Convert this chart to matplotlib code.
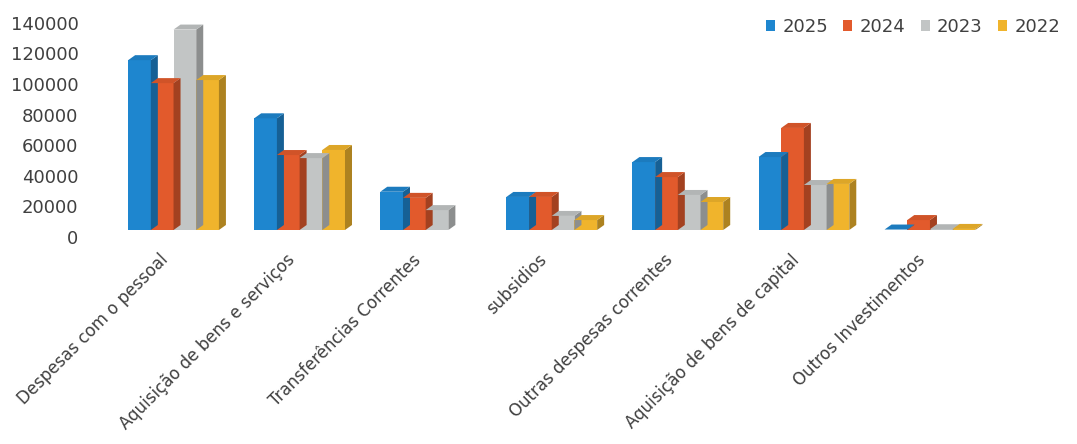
import matplotlib
matplotlib.use("Agg")
import matplotlib.pyplot as plt
import numpy as np
from matplotlib.patches import Polygon, Patch
from matplotlib.transforms import ScaledTranslation
import matplotlib.colors as mcolors

categories = ["Despesas com o pessoal", "Aquisição de bens e serviços", "Transferências Correntes",
              "subsidios", "Outras despesas correntes", "Aquisição de bens de capital", "Outros Investimentos"]
series_names = ["2025", "2024", "2023", "2022"]
v2025 = [111000, 73000, 25000, 21600, 44400, 47700, 300]
v2024 = [96000, 49000, 21000, 21600, 34600, 66700, 6500]
v2023 = [131000, 47000, 13000, 9200, 22900, 29400, 500]
v2022 = [98000, 52300, 0, 6500, 18300, 30100, 700]
yticks = [0, 20000, 40000, 60000, 80000, 100000, 120000, 140000]
colors = ["#1e86cf", "#e25a2c", "#c2c5c5", "#f0b42c"]

W, H, DPI = 1077, 444, 100
fig = plt.figure(figsize=(W / DPI, H / DPI), dpi=DPI)
plt.rcParams['font.family'] = ['DejaVu Sans']

left_px, right_px = 110.5, 993.0
base_px, top_px = 230.0, 15.8
ax = fig.add_axes([left_px / W, (H - base_px) / H, (right_px - left_px) / W, (base_px - top_px) / H])
ax.set_xlim(-0.5, len(categories) - 0.5)
ax.set_ylim(0, 140000)
for s in ax.spines.values():
    s.set_visible(False)

data = [v2025, v2024, v2023, v2022]
n = len(data)
bw = 0.18
x = np.arange(len(categories))
dx, dy = 7.0, 5.0  # depth in pixels

def shade(c, f):
    r, g, b = mcolors.to_rgb(c)
    return (r * f, g * f, b * f)

fig.canvas.draw()
T = ax.transData
z = 2
for ci in range(len(categories)):
    for si in range(n):
        h = data[si][ci]
        if h <= 0:
            continue
        xl = x[ci] - bw * n / 2 + si * bw
        xr = xl + bw
        (X0, Y0) = T.transform((xl, 0))
        (X1, Y1) = T.transform((xr, h))
        c = colors[si]
        side = Polygon([(X1, Y0), (X1 + dx, Y0 + dy), (X1 + dx, Y1 + dy), (X1, Y1)],
                       closed=True, transform=None, facecolor=shade(c, 0.72), edgecolor='none', zorder=z)
        top = Polygon([(X0, Y1), (X0 + dx, Y1 + dy), (X1 + dx, Y1 + dy), (X1, Y1)],
                      closed=True, transform=None, facecolor=shade(c, 0.92), edgecolor='none', zorder=z + 0.1)
        fig.add_artist(side)
        fig.add_artist(top)
        front = ax.bar(xl, h, width=bw, align='edge', color=c, zorder=z + 0.2, linewidth=0)
        for p in front:
            p.set_clip_on(False)
        z += 1

ax.set_yticks(yticks)
ax.set_yticklabels([str(v) for v in yticks])
ax.tick_params(axis='y', length=0, pad=23, labelsize=13, labelcolor='#404040')
for lab in ax.get_yticklabels():
    lab.set_transform(lab.get_transform() + ScaledTranslation(0, -7 / DPI, fig.dpi_scale_trans))

ax.set_xticks(x)
ax.set_xticklabels(categories, rotation=45, ha='right', rotation_mode='anchor')
ax.tick_params(axis='x', length=0, pad=15, labelsize=12, labelcolor='#404040')
for lab in ax.get_xticklabels():
    lab.set_transform(lab.get_transform() + ScaledTranslation(-14 / DPI, 0, fig.dpi_scale_trans))

handles = [Patch(facecolor=c, edgecolor='none', label=s) for c, s in zip(colors, series_names)]
fig.legend(handles=handles, loc='center right', bbox_to_anchor=(1060 / W, 1 - 27 / H), ncol=4,
           frameon=False, fontsize=13, handlelength=0.5, handleheight=0.5, handletextpad=0.4,
           columnspacing=0.85, borderpad=0, borderaxespad=0, labelcolor='#404040')

fig.savefig("out.png", dpi=DPI)
